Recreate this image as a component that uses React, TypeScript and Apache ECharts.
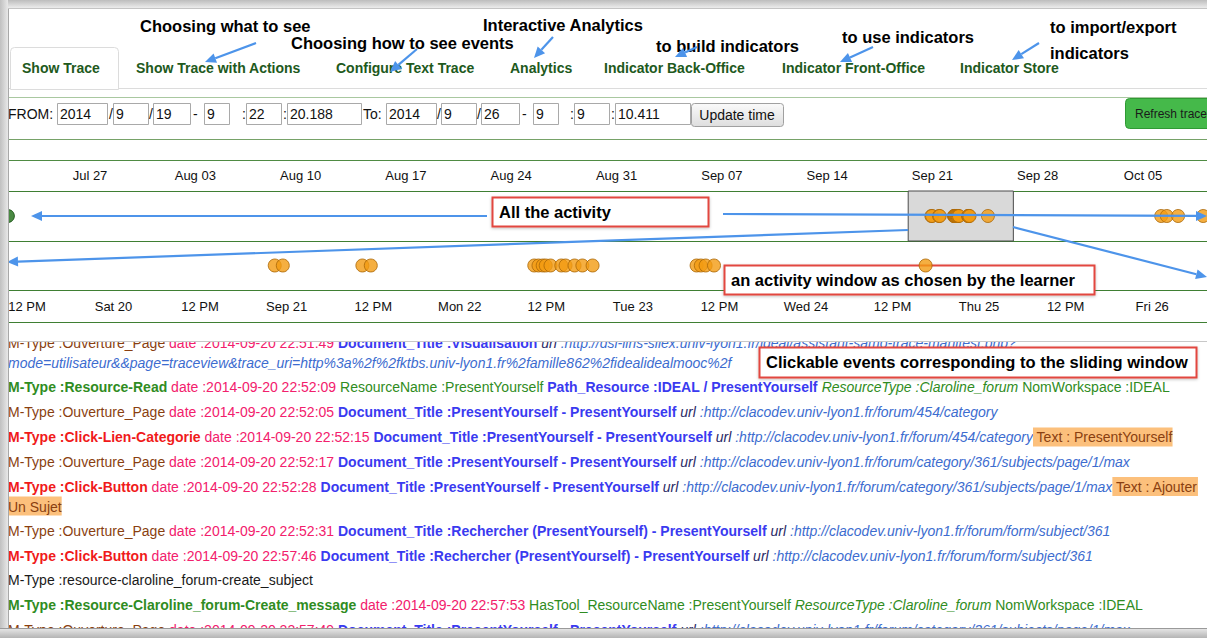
import React, { useEffect, useRef } from 'react';
import * as echarts from 'echarts';

// ---------------- data ----------------
const WINDOW_FROM = '2014-09-19 09:22:20.188';
const WINDOW_TO = '2014-09-26 09:09:10.411';
const DETAIL_VIEW_MAX = '2014-09-26 07:35:40';
const OVERVIEW_MIN = '2014-07-21 13:10';
const OVERVIEW_MAX = '2014-10-09 06:06';

const OVERVIEW_TICKS = ['2014-07-27', '2014-08-03', '2014-08-10', '2014-08-17', '2014-08-24', '2014-08-31', '2014-09-07', '2014-09-14', '2014-09-21', '2014-09-28', '2014-10-05'];
const OVERVIEW_TICK_LABELS = ['Jul 27', 'Aug 03', 'Aug 10', 'Aug 17', 'Aug 24', 'Aug 31', 'Sep 07', 'Sep 14', 'Sep 21', 'Sep 28', 'Oct 05'];

const DETAIL_TICKS = ['2014-09-19 12:00', '2014-09-20 00:00', '2014-09-20 12:00', '2014-09-21 00:00', '2014-09-21 12:00', '2014-09-22 00:00', '2014-09-22 12:00', '2014-09-23 00:00', '2014-09-23 12:00', '2014-09-24 00:00', '2014-09-24 12:00', '2014-09-25 00:00', '2014-09-25 12:00', '2014-09-26 00:00'];
const DETAIL_TICK_LABELS = ['12 PM', 'Sat 20', '12 PM', 'Sep 21', '12 PM', 'Mon 22', '12 PM', 'Tue 23', '12 PM', 'Wed 24', '12 PM', 'Thu 25', '12 PM', 'Fri 26'];

const START_EVENT = ['2014-07-21 13:00'];
const EVENT_TIMES = [
  '2014-09-20 22:21', '2014-09-20 23:28',
  '2014-09-21 10:30', '2014-09-21 11:40',
  '2014-09-22 10:20', '2014-09-22 10:55', '2014-09-22 11:30', '2014-09-22 11:55', '2014-09-22 12:35',
  '2014-09-22 14:05', '2014-09-22 14:40', '2014-09-22 15:55', '2014-09-22 17:00', '2014-09-22 18:25',
  '2014-09-23 08:50', '2014-09-23 09:25', '2014-09-23 10:05', '2014-09-23 11:15',
  '2014-09-24 16:35',
  '2014-10-06 05:00', '2014-10-06 14:00', '2014-10-07 08:00', '2014-10-09 00:00',
];

const TABS = ['Show Trace', 'Show Trace with Actions', 'Configure Text Trace', 'Analytics', 'Indicator Back-Office', 'Indicator Front-Office', 'Indicator Store'];
const TAB_NOTES = ['Choosing what to see', 'Choosing how to see events', 'Interactive Analytics', 'to build indicators', 'to use indicators', 'to import/export', 'indicators'];
const FROM_FIELDS = ['2014', '9', '19', '9', '22', '20.188'];
const TO_FIELDS = ['2014', '9', '26', '9', '9', '10.411'];

type Seg = [string, string];
const LOG_ENTRIES: Seg[][][] = [
  [[['mb', 'M-Type :Ouverture_Page '], ['dt', 'date :2014-09-20 22:51:49 '], ['doc', 'Document_Title :Visualisation '], ['ul', 'url'], ['url', ' :http://dsi-liris-silex.univ-lyon1.fr/ideal/assistant-samo-trace-manifest.php?']],
   [['url', 'mode=utilisateur&&page=traceview&trace_uri=http%3a%2f%2fktbs.univ-lyon1.fr%2famille862%2fidealidealmooc%2f']]],
  [[['gb', 'M-Type :Resource-Read '], ['dt', 'date :2014-09-20 22:52:09 '], ['g', 'ResourceName :PresentYourself '], ['doc', 'Path_Resource :IDEAL / PresentYourself '], ['gi', 'ResourceType :Claroline_forum '], ['g', 'NomWorkspace :IDEAL']]],
  [[['mb', 'M-Type :Ouverture_Page '], ['dt', 'date :2014-09-20 22:52:05 '], ['doc', 'Document_Title :PresentYourself - PresentYourself '], ['ul', 'url'], ['url', ' :http://clacodev.univ-lyon1.fr/forum/454/category']]],
  [[['rb', 'M-Type :Click-Lien-Categorie '], ['dt', 'date :2014-09-20 22:52:15 '], ['doc', 'Document_Title :PresentYourself - PresentYourself '], ['ul', 'url'], ['url', ' :http://clacodev.univ-lyon1.fr/forum/454/category'], ['hl', ' Text : PresentYourself']]],
  [[['mb', 'M-Type :Ouverture_Page '], ['dt', 'date :2014-09-20 22:52:17 '], ['doc', 'Document_Title :PresentYourself - PresentYourself '], ['ul', 'url'], ['url', ' :http://clacodev.univ-lyon1.fr/forum/category/361/subjects/page/1/max']]],
  [[['rb', 'M-Type :Click-Button '], ['dt', 'date :2014-09-20 22:52:28 '], ['doc', 'Document_Title :PresentYourself - PresentYourself '], ['ul', 'url'], ['url', ' :http://clacodev.univ-lyon1.fr/forum/category/361/subjects/page/1/max'], ['hl', ' Text : Ajouter']],
   [['hl', 'Un Sujet']]],
  [[['mb', 'M-Type :Ouverture_Page '], ['dt', 'date :2014-09-20 22:52:31 '], ['doc', 'Document_Title :Rechercher (PresentYourself) - PresentYourself '], ['ul', 'url'], ['url', ' :http://clacodev.univ-lyon1.fr/forum/form/subject/361']]],
  [[['rb', 'M-Type :Click-Button '], ['dt', 'date :2014-09-20 22:57:46 '], ['doc', 'Document_Title :Rechercher (PresentYourself) - PresentYourself '], ['ul', 'url'], ['url', ' :http://clacodev.univ-lyon1.fr/forum/form/subject/361']]],
  [[['k', 'M-Type :resource-claroline_forum-create_subject']]],
  [[['gb', 'M-Type :Resource-Claroline_forum-Create_message '], ['dt', 'date :2014-09-20 22:57:53 '], ['g', 'HasTool_ResourceName :PresentYourself '], ['gi', 'ResourceType :Claroline_forum '], ['g', 'NomWorkspace :IDEAL']]],
  [[['mb', 'M-Type :Ouverture_Page '], ['dt', 'date :2014-09-20 22:57:49 '], ['doc', 'Document_Title :PresentYourself - PresentYourself '], ['ul', 'url'], ['url', ' :http://clacodev.univ-lyon1.fr/forum/category/361/subjects/page/1/max']]],
];

// ---------------- helpers ----------------
const W = 1207;
const H = 638;
const FF = '"Liberation Sans", Arial, Helvetica, sans-serif';

function ms(s: string): number {
  const m = s.match(/(\d+)-(\d+)-(\d+)(?: (\d+):(\d+)(?::([\d.]+))?)?/)!;
  const sec = m[6] ? parseFloat(m[6]) : 0;
  return Date.UTC(+m[1], +m[2] - 1, +m[3], m[4] ? +m[4] : 0, m[5] ? +m[5] : 0, 0) + Math.round(sec * 1000);
}

function lookup(ticks: string[], labels: string[]) {
  const keys = ticks.map(ms);
  return (v: any) => {
    const n = typeof v === 'number' ? v : +v;
    let best = -1, bd = Infinity;
    keys.forEach((k, i) => { const d = Math.abs(k - n); if (d < bd) { bd = d; best = i; } });
    return bd < 60000 ? labels[best] : '';
  };
}

function hline(y: number, color: string, x1 = 8, x2 = W, z = 0) {
  return { type: 'line', silent: true, z, shape: { x1, y1: y + 0.5, x2, y2: y + 0.5 }, style: { stroke: color, lineWidth: 1 } };
}

function txt(x: number, y: number, text: string, font: string, fill: string, z = 20, align = 'left') {
  return { type: 'text', x, y, z, silent: true, style: { text, font, fill, align, verticalAlign: 'middle' } };
}

const ARROW = '#4d94ea';
function arrow(x1: number, y1: number, x2: number, y2: number, z = 30) {
  const a = Math.atan2(y2 - y1, x2 - x1);
  const L = 11, Wd = 5;
  const bx = x2 - L * Math.cos(a), by = y2 - L * Math.sin(a);
  return [
    { type: 'line', silent: true, z, shape: { x1, y1, x2: bx, y2: by }, style: { stroke: ARROW, lineWidth: 2.2 } },
    { type: 'polygon', silent: true, z, shape: { points: [[x2, y2], [bx + Wd * Math.sin(a), by - Wd * Math.cos(a)], [bx - Wd * Math.sin(a), by + Wd * Math.cos(a)]] }, style: { fill: ARROW } },
  ];
}

function noteBox(x: number, y: number, w: number, h: number, text: string, z = 25) {
  return [
    { type: 'rect', silent: true, z, shape: { x: x + 0.5, y: y + 0.5, width: w, height: h }, style: { fill: '#fff', stroke: '#e2463f', lineWidth: 2, shadowBlur: 3, shadowColor: 'rgba(0,0,0,0.25)', shadowOffsetY: 1 } },
    txt(x + 7, y + h / 2, text, `bold 16.5px ${FF}`, '#000', z + 1),
  ];
}

const RICH_BASE = { fontSize: 14, fontFamily: FF };
const RICH: Record<string, any> = {
  mb: { ...RICH_BASE, fill: '#8a3f10' },
  rb: { ...RICH_BASE, fill: '#f01a1a', fontWeight: 'bold' },
  gb: { ...RICH_BASE, fill: '#2f8c22', fontWeight: 'bold' },
  k: { ...RICH_BASE, fill: '#1a1a1a' },
  dt: { ...RICH_BASE, fill: '#f2206c' },
  doc: { ...RICH_BASE, fill: '#3a3af0', fontWeight: 'bold' },
  ul: { ...RICH_BASE, fill: '#2a2a66', fontStyle: 'italic' },
  url: { ...RICH_BASE, fill: '#3c6ccf', fontStyle: 'italic' },
  g: { ...RICH_BASE, fill: '#2f8c22' },
  gi: { ...RICH_BASE, fill: '#2f8c22', fontStyle: 'italic' },
  hl: { ...RICH_BASE, fill: '#8a3f10', backgroundColor: '#fcc07c', padding: [3, 0, 2, 0] },
};

function buildGraphics() {
  const g: any[] = [];

  // tabs
  g.push({ type: 'rect', silent: true, z: 1, shape: { x: 10.5, y: 47.5, width: 108, height: 42, r: [4, 4, 0, 0] }, style: { fill: '#fff', stroke: '#dcdcdc', lineWidth: 1 } });
  g.push(hline(88, '#dcdcdc', 8, 10.5, 1));
  g.push(hline(88, '#dcdcdc', 118.5, W, 1));
  const tabX = [22, 136, 336, 510, 604, 782, 960];
  TABS.forEach((t, i) => g.push(txt(tabX[i], 68, t, `bold 14px ${FF}`, '#21591c', 5)));

  // tab annotations
  const noteXY: [number, number][] = [[140, 26], [291, 43], [483, 25], [656, 46], [842, 37], [1050, 27], [1050, 53]];
  TAB_NOTES.forEach((t, i) => g.push(txt(noteXY[i][0], noteXY[i][1], t, `bold 16.5px ${FF}`, '#000', 20)));
  g.push(...arrow(256, 43, 205, 62));
  g.push(...arrow(417, 49, 390, 72));
  g.push(...arrow(553, 37, 534, 58));
  g.push(...arrow(697, 47, 675, 57));
  g.push(...arrow(873, 47, 840, 62));
  g.push(...arrow(1039, 43, 1012, 60));

  // separators
  g.push(hline(97, '#a9c8a0'));
  g.push(hline(139, '#76a268'));
  g.push(hline(160, '#4f8b43'));
  g.push(hline(191, '#3f7f33'));
  g.push(hline(241, '#3f7f33'));
  g.push(hline(290, '#3f7f33'));
  g.push(hline(322, '#3f7f33'));

  // form row
  g.push(txt(8, 114, 'FROM:', `14px ${FF}`, '#111', 5));
  const boxes: [number, number][] = [[57, 107], [113, 148], [153, 190], [204, 229], [246, 281], [287, 361], [386, 436], [441, 476], [481, 519], [533, 558], [574, 609], [615, 690]];
  const vals = [...FROM_FIELDS, ...TO_FIELDS];
  boxes.forEach(([a, b], i) => {
    g.push({ type: 'rect', silent: true, z: 4, shape: { x: a + 0.5, y: 103.5, width: b - a, height: 21 }, style: { fill: '#fff', stroke: '#a9a9a9', lineWidth: 1 } });
    g.push(txt(a + 3, 114, vals[i], `14px ${FF}`, '#111', 5));
  });
  const seps: [number, string][] = [[109, '/'], [149, '/'], [193, '-'], [242, ':'], [283, ':'], [363, 'To:'], [437, '/'], [477, '/'], [522, '-'], [570, ':'], [611, ':']];
  seps.forEach(([x, s]) => g.push(txt(x, 114, s, `14px ${FF}`, '#111', 5)));
  g.push({ type: 'rect', silent: true, z: 4, shape: { x: 691.5, y: 103.5, width: 92, height: 23, r: 3 }, style: { fill: new echarts.graphic.LinearGradient(0, 0, 0, 1, [{ offset: 0, color: '#fafafa' }, { offset: 1, color: '#dedede' }]), stroke: '#a0a0a0', lineWidth: 1 } });
  g.push(txt(737, 115, 'Update time', `14px ${FF}`, '#111', 5, 'center'));
  g.push({ type: 'rect', silent: true, z: 4, shape: { x: 1125.5, y: 98.5, width: 90, height: 30, r: 4 }, style: { fill: '#45b94a', stroke: '#2f9a34', lineWidth: 1 } });
  g.push(txt(1135, 114, 'Refresh trace', `12px ${FF}`, '#1a1a1a', 5));

  // activity annotations
  g.push(...noteBox(492, 197, 216, 29, 'All the activity', 25));
  g.push(...arrow(487, 216, 31, 216));
  g.push(...arrow(723, 214, 1207, 216));
  g.push(...arrow(908, 230, 7, 262));
  g.push(...arrow(1013, 227, 1207, 277));
  g.push(...noteBox(724, 265, 370, 29, 'an activity window as chosen by the learner', 1));

  // event log
  let y = 343;
  LOG_ENTRIES.forEach((entry, ei) => {
    if (ei > 0) y += 24.8;
    entry.forEach((line, li) => {
      if (li > 0) y += 19.5;
      const text = line.map(([k, s]) => `{${k}|${s}}`).join('');
      g.push({ type: 'text', x: 8, y, z: 3, silent: true, style: { text, rich: RICH, font: `14px ${FF}`, fill: '#111', align: 'left', verticalAlign: 'middle' } });
    });
  });
  g.push({ type: 'rect', silent: true, z: 6, shape: { x: 8, y: 323, width: W, height: 18 }, style: { fill: '#fff' } });
  g.push(hline(341, '#c8c8c8', 8, W, 7));
  g.push(...noteBox(759, 347, 437, 30, 'Clickable events corresponding to the sliding window', 25));

  // window frame shadows
  g.push({ type: 'rect', silent: true, z: 40, shape: { x: 0, y: 0, width: W, height: 8 }, style: { fill: new echarts.graphic.LinearGradient(0, 0, 0, 1, [{ offset: 0, color: '#bdbdbd' }, { offset: 1, color: '#ececec' }]) } });
  g.push({ type: 'rect', silent: true, z: 40, shape: { x: 0, y: 0, width: 8, height: H }, style: { fill: new echarts.graphic.LinearGradient(0, 0, 1, 0, [{ offset: 0, color: '#c0c0c0' }, { offset: 1, color: '#e8e8e8' }]) } });
  g.push({ type: 'rect', silent: true, z: 40, shape: { x: 0, y: 629, width: W, height: 9 }, style: { fill: new echarts.graphic.LinearGradient(0, 0, 0, 1, [{ offset: 0, color: '#e4e4e4' }, { offset: 1, color: '#b4b4b4' }]) } });
  g.push({ type: 'line', silent: true, z: 41, shape: { x1: 8.5, y1: 8, x2: 8.5, y2: 629 }, style: { stroke: '#a8a8a8', lineWidth: 1 } });
  g.push(hline(8, '#c4c4c4', 8, W, 41));
  g.push(hline(628, '#9a9a9a', 0, W, 41));
  return g;
}

const ORANGE = { color: '#f39b12', borderColor: '#a96608', borderWidth: 1 };

export default function App() {
  const ref = useRef<HTMLDivElement>(null);
  useEffect(() => {
    const chart = echarts.init(ref.current!, null, { renderer: 'svg' });
    const labelStyle = { color: '#111', fontSize: 13, fontFamily: FF, margin: 16, verticalAlign: 'middle' };
    const events = EVENT_TIMES.map((t) => [ms(t), 0.5]);
    chart.setOption({
      animation: false,
      backgroundColor: '#fff',
      grid: [
        { left: 8, top: 191, width: 1199, height: 50 },
        { left: 8, top: 241, width: 1199, height: 49 },
      ],
      xAxis: [
        {
          type: 'value', gridIndex: 0, position: 'top', min: ms(OVERVIEW_MIN), max: ms(OVERVIEW_MAX),
          axisLine: { show: false }, axisTick: { show: false }, splitLine: { show: false },
          axisLabel: { ...labelStyle, customValues: OVERVIEW_TICKS.map(ms), formatter: lookup(OVERVIEW_TICKS, OVERVIEW_TICK_LABELS) },
        },
        {
          type: 'value', gridIndex: 1, position: 'bottom', min: ms(WINDOW_FROM), max: ms(DETAIL_VIEW_MAX),
          axisLine: { show: false }, axisTick: { show: false }, splitLine: { show: false },
          axisLabel: { ...labelStyle, customValues: DETAIL_TICKS.map(ms), formatter: lookup(DETAIL_TICKS, DETAIL_TICK_LABELS) },
        },
      ],
      yAxis: [
        { type: 'value', gridIndex: 0, min: 0, max: 1, show: false },
        { type: 'value', gridIndex: 1, min: 0, max: 1, show: false },
      ],
      series: [
        {
          name: 'overview', type: 'scatter', xAxisIndex: 0, yAxisIndex: 0, symbolSize: 13,
          itemStyle: ORANGE, data: events, silent: true,
          markArea: {
            silent: true, label: { show: false },
            itemStyle: { color: '#d9d9d9', borderColor: '#4a4a4a', borderWidth: 1 },
            data: [[{ xAxis: ms(WINDOW_FROM) }, { xAxis: ms(WINDOW_TO) }]],
          },
        },
        {
          name: 'start', type: 'scatter', xAxisIndex: 0, yAxisIndex: 0, symbolSize: 13, clip: false,
          itemStyle: { color: '#1d6b14', borderColor: '#0f4a0a', borderWidth: 1 },
          data: START_EVENT.map((t) => [ms(t), 0.5]), silent: true,
        },
        {
          name: 'detail', type: 'scatter', xAxisIndex: 1, yAxisIndex: 1, symbolSize: 13,
          itemStyle: ORANGE, data: events, silent: true,
        },
      ],
      graphic: { elements: buildGraphics() },
    });
    return () => chart.dispose();
  }, []);
  return <div ref={ref} style={{ position: 'absolute', left: 0, top: 0, width: W, height: H, overflow: 'hidden' }} />;
}
